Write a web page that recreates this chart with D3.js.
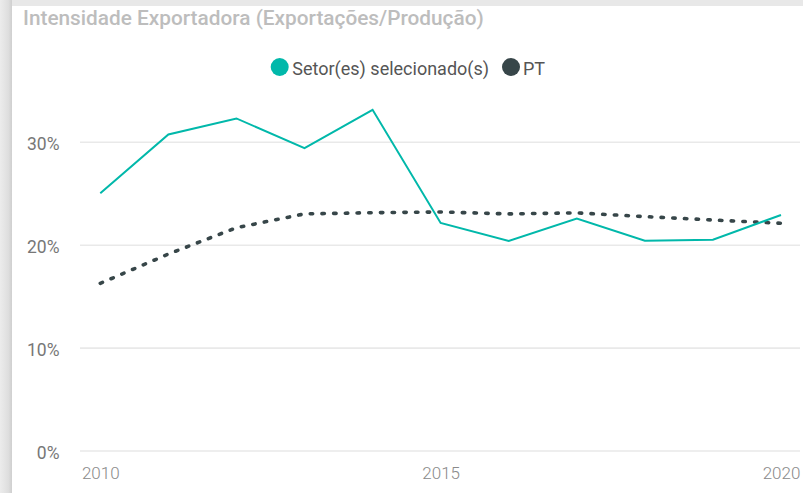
<!DOCTYPE html>
<html>
<head>
<meta charset="utf-8">
<script src="https://cdn.jsdelivr.net/npm/d3@7"></script>
<style>
  html, body { margin: 0; padding: 0; background: #e9e9e9; }
  svg { display: block; }
</style>
</head>
<body>
<svg id="chart" width="803" height="493"></svg>
<script>
// ---- Data ----
const titleText = "Intensidade Exportadora (Exportações/Produção)";
const years = [2010, 2011, 2012, 2013, 2014, 2015, 2016, 2017, 2018, 2019, 2020];
const sectorValues = [0.2505, 0.3076, 0.3232, 0.2943, 0.3316, 0.2216, 0.2041, 0.2258, 0.2044, 0.2054, 0.2294];
const ptValues = [0.1629, 0.1914, 0.2170, 0.2304, 0.2316, 0.2323, 0.2304, 0.2314, 0.2278, 0.2245, 0.2213];
const seriesNames = ["Setor(es) selecionado(s)", "PT"];
const seriesColors = ["#01B8AA", "#374649"];
const yTicks = [0, 0.1, 0.2, 0.3];
const xTicks = [2010, 2015, 2020];

// ---- Layout ----
const W = 803, H = 493;
const svg = d3.select("#chart");

// background with shadows
const defs = svg.append("defs");
const lg = defs.append("linearGradient").attr("id", "leftShade").attr("x1", "0").attr("x2", "1").attr("y1", "0").attr("y2", "0");
lg.append("stop").attr("offset", "0%").attr("stop-color", "#ececec");
lg.append("stop").attr("offset", "70%").attr("stop-color", "#dedede");
lg.append("stop").attr("offset", "100%").attr("stop-color", "#cfcfcf");
svg.append("rect").attr("x", 0).attr("y", 0).attr("width", W).attr("height", H).attr("fill", "#e8e8e8");
svg.append("rect").attr("x", 0).attr("y", 0).attr("width", 12).attr("height", H).attr("fill", "url(#leftShade)");
svg.append("rect").attr("x", 12).attr("y", 6).attr("width", W - 12).attr("height", H - 6).attr("fill", "#ffffff");

// fit text to width helper
function fitText(sel, target) {
  const len = sel.node().getComputedTextLength();
  const fs = parseFloat(sel.attr("font-size"));
  sel.attr("font-size", (fs * target / len).toFixed(2));
}

// title
const title = svg.append("text")
  .attr("x", 23).attr("y", 25)
  .attr("font-family", "Roboto, 'DejaVu Sans', sans-serif")
  .attr("font-weight", 500)
  .attr("font-size", 18)
  .attr("fill", "#bdbdbd")
  .text(titleText);
fitText(title, 461);

// scales
const x = d3.scaleLinear().domain([2010, 2020]).range([100.3, 781]);
const y = d3.scaleLinear().domain([0, 0.3]).range([451, 142.3]);

// gridlines
const grid = svg.append("g");
grid.selectAll("line").data(yTicks).join("line")
  .attr("x1", 80).attr("x2", 800)
  .attr("y1", d => y(d)).attr("y2", d => y(d))
  .attr("stroke", "#e9e9e9").attr("stroke-width", 1.6);

// y axis
const yAxis = svg.append("g").attr("transform", "translate(59.5,0)")
  .call(d3.axisLeft(y).tickValues(yTicks).tickFormat(d3.format(".0%")).tickSize(0).tickPadding(0));
yAxis.select(".domain").remove();
yAxis.selectAll("text")
  .attr("font-family", "Roboto, sans-serif")
  .attr("font-size", 17.5)
  .attr("fill", "#777777")
  .attr("dy", "0.4em");

// x axis
const xAxis = svg.append("g").attr("transform", "translate(0,460)")
  .call(d3.axisBottom(x).tickValues(xTicks).tickFormat(d3.format("d")).tickSize(0).tickPadding(0));
xAxis.select(".domain").remove();
xAxis.selectAll("text")
  .attr("font-family", "Roboto, sans-serif")
  .attr("font-weight", 300)
  .attr("font-size", 17)
  .attr("fill", "#8a8a8a")
  .attr("dy", "1.1em");

// lines
const line = d3.line().x((d, i) => x(years[i])).y(d => y(d));

svg.append("path").datum(ptValues)
  .attr("d", line)
  .attr("fill", "none")
  .attr("stroke", seriesColors[1])
  .attr("stroke-width", 3.6)
  .attr("stroke-linecap", "round")
  .attr("stroke-dasharray", "2.4 9.3");

svg.append("path").datum(sectorValues)
  .attr("d", line)
  .attr("fill", "none")
  .attr("stroke", seriesColors[0])
  .attr("stroke-width", 2);

// legend
const legend = svg.append("g");
const legendItems = [
  { name: seriesNames[0], color: seriesColors[0], cx: 279.7, tx: 292.3, w: 198 },
  { name: seriesNames[1], color: seriesColors[1], cx: 511, tx: 523, w: 18 }
];
legendItems.forEach(it => {
  legend.append("circle").attr("cx", it.cx).attr("cy", 67).attr("r", 9).attr("fill", it.color);
  legend.append("text")
    .attr("x", it.tx).attr("y", 74.5)
    .attr("font-family", "Roboto, sans-serif")
    .attr("font-size", 18)
    .attr("fill", "#555555")
    .text(it.name);
});
</script>
</body>
</html>
